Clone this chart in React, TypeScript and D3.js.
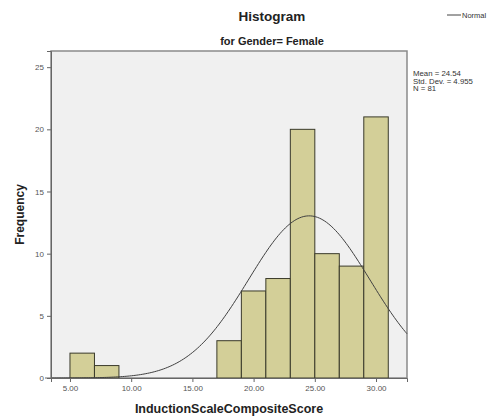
import * as d3 from "d3";
import { useEffect, useRef } from "react";

// bin lower edges (width 2) and counts
const binStarts = [5, 7, 17, 19, 21, 23, 25, 27, 29];
const counts = [2, 1, 3, 7, 8, 20, 10, 9, 21];
const binWidth = 2;
const xTicks = [5, 10, 15, 20, 25, 30];
const yTicks = [0, 5, 10, 15, 20, 25];
const statLines = ["Mean = 24.54", "Std. Dev. = 4.955", "N = 81"];
const mean = 24.54;
const sd = 4.955;
const n = 81;

export default function App() {
  const ref = useRef<SVGSVGElement | null>(null);

  useEffect(() => {
    if (!ref.current) return;
    const svg = d3.select(ref.current);
    svg.selectAll("*").remove();

    const left = 51, right = 407, top = 51, bottom = 378;
    const x = d3.scaleLinear().domain([3.45, 32.53]).range([left, right]);
    const y = d3.scaleLinear().domain([0, 26.3]).range([bottom, top]);

    svg.append("rect")
      .attr("x", left).attr("y", top)
      .attr("width", right - left).attr("height", bottom - top)
      .attr("fill", "#f0f0f0").attr("stroke", "#8a8a8a").attr("stroke-width", 1.5);

    svg.append("g")
      .selectAll("rect")
      .data(binStarts)
      .join("rect")
      .attr("x", (d) => x(d))
      .attr("y", (_, i) => y(counts[i]))
      .attr("width", (d) => x(d + binWidth) - x(d))
      .attr("height", (_, i) => y(0) - y(counts[i]))
      .attr("fill", "#d3cf98")
      .attr("stroke", "#3a3a2a")
      .attr("stroke-width", 1);

    // normal curve scaled to counts
    const pts = d3.range(200).map((i) => {
      const v = 3.45 + (i / 199) * (32.53 - 3.45);
      const dens = Math.exp(-0.5 * ((v - mean) / sd) ** 2) / (sd * Math.sqrt(2 * Math.PI));
      return [v, dens * n * binWidth] as [number, number];
    });
    svg.append("path")
      .datum(pts)
      .attr("d", d3.line<[number, number]>().x((d) => x(d[0])).y((d) => y(d[1])).curve(d3.curveBasis))
      .attr("fill", "none")
      .attr("stroke", "#404040")
      .attr("stroke-width", 1);

    const yAxis = svg.append("g")
      .attr("transform", `translate(${left},0)`)
      .call(d3.axisLeft(y).tickValues(yTicks).tickSize(4).tickFormat(d3.format("d")));
    yAxis.select(".domain").attr("stroke", "#666");
    yAxis.selectAll("line").attr("stroke", "#666");
    yAxis.selectAll("text").attr("fill", "#555").style("font-size", "8px").style("font-family", "Arial, Liberation Sans");

    const xAxis = svg.append("g")
      .attr("transform", `translate(0,${bottom})`)
      .call(d3.axisBottom(x).tickValues(xTicks).tickSize(4).tickFormat(d3.format(".2f")));
    xAxis.select(".domain").attr("stroke", "#666");
    xAxis.selectAll("line").attr("stroke", "#666");
    xAxis.selectAll("text").attr("fill", "#555").style("font-size", "8px").style("font-family", "Arial, Liberation Sans");
    svg.append("line").attr("x1", 45).attr("x2", left).attr("y1", bottom).attr("y2", bottom)
      .attr("stroke", "#666");

    const font = "Arial, Liberation Sans, sans-serif";
    svg.append("text").attr("x", 272).attr("y", 21).attr("text-anchor", "middle")
      .style("font-family", font).style("font-weight", "bold").style("font-size", "13.5px").attr("fill", "#222")
      .text("Histogram");
    svg.append("text").attr("x", 272).attr("y", 45).attr("text-anchor", "middle")
      .style("font-family", font).style("font-weight", "bold").style("font-size", "11px").attr("fill", "#222")
      .text("for Gender= Female");

    svg.append("line").attr("x1", 447).attr("x2", 461).attr("y1", 15).attr("y2", 15)
      .attr("stroke", "#444").attr("stroke-width", 1);
    svg.append("text").attr("x", 462).attr("y", 18)
      .style("font-family", font).style("font-size", "7.5px").attr("fill", "#333")
      .text("Normal");

    svg.append("g").selectAll("text").data(statLines).join("text")
      .attr("x", 413).attr("y", (_, i) => 76 + i * 7.6)
      .style("font-family", font).style("font-size", "7.8px").attr("fill", "#333")
      .text((d) => d);

    svg.append("text")
      .attr("transform", `translate(24,${(top + bottom) / 2}) rotate(-90)`)
      .attr("text-anchor", "middle")
      .style("font-family", font).style("font-weight", "bold").style("font-size", "12px").attr("fill", "#222")
      .text("Frequency");
    svg.append("text").attr("x", (left + right) / 2).attr("y", 413).attr("text-anchor", "middle")
      .style("font-family", font).style("font-weight", "bold").style("font-size", "12.5px").attr("fill", "#222")
      .text("InductionScaleCompositeScore");
  }, []);

  return (
    <svg ref={ref} width={492} height={419}
      style={{ position: "absolute", left: 0, top: 0, background: "#fff" }} />
  );
}
